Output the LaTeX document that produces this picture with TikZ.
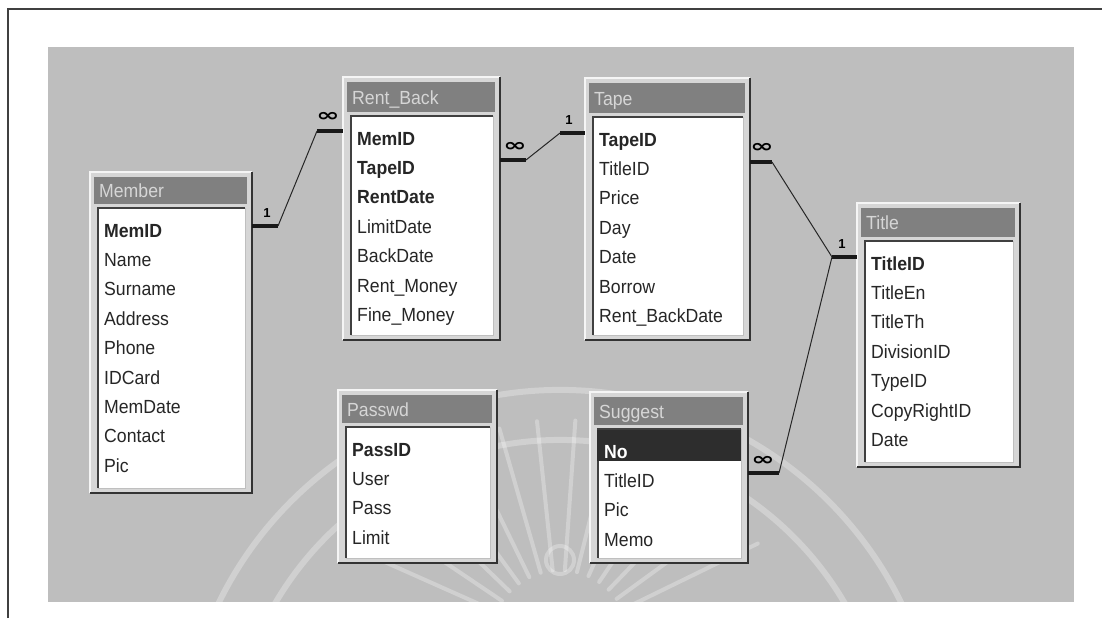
\documentclass[tikz,border=0pt]{standalone}
\usepackage{fontspec}
\setmainfont{Liberation Sans}
\newfontfamily\fieldfont[FakeStretch=0.93]{Liberation Sans}
\newfontfamily\symfont{DejaVu Sans}
\usetikzlibrary{calc}
\definecolor{bggray}{RGB}{190,190,190}
\definecolor{framegray}{RGB}{214,214,214}
\definecolor{headgray}{RGB}{128,128,128}
\definecolor{headtext}{RGB}{214,214,214}
\definecolor{selgray}{RGB}{45,45,45}
\tikzset{
  hilite/.style={draw=white!96!black, line width=1.6pt},
  shadow/.style={draw=black!80, line width=2pt},
  inset/.style={draw=black!75, line width=1.6pt},
  insetlight/.style={draw=black!25, line width=0.8pt},
  tabtitle/.style={anchor=base west, inner sep=0pt, text=headtext,
    font=\fieldfont\fontsize{19}{19}\selectfont},
  field/.style={anchor=base west, inner sep=0pt, text=black!85,
    font=\fieldfont\fontsize{19}{19}\selectfont},
  tablebox/.style={anchor=north west, inner sep=0pt, draw=none},
  stub/.style={line width=4.5pt, black!90},
  rel/.style={line width=1pt, black!85},
  onelabel/.style={inner sep=0pt, font=\bfseries\fontsize{13}{13}\selectfont},
  manylabel/.style={inner sep=0pt, font=\symfont\bfseries\fontsize{18}{18}\selectfont},
  watermark/.style={draw=white, opacity=0.28, line width=6pt, line cap=round}
}
% #1 hook, #2 name, #3 L, #4 T, #5 R, #6 B, #7 header bottom, #8 title, #9 fields
\newcommand\dbtable[9][]{%
  \pgfmathsetmacro\tbw{#5-#3}%
  \pgfmathsetmacro\tbh{#6-#4}%
  \node[tablebox, minimum width=\tbw pt, minimum height=\tbh pt] (#2) at (#3,#4) {};
  \fill[framegray] (#3,#4) rectangle (#5,#6);
  \draw[hilite] (#3,#6) |- (#5,#4);
  \draw[shadow] (#3,#6) -| (#5,#4);
  \fill[headgray] ({#3+4},{#4+5}) rectangle ({#5-5},#7);
  \node[tabtitle] (#2-title) at ({#3+9},{(#4+5+#7)/2+7}) {#8};
  \fill[white] ({#3+8},{#7+4}) rectangle ({#5-7},{#6-5});
  \draw[inset] ({#3+8},{#6-5}) |- ({#5-7},{#7+4});
  \draw[insetlight] ({#3+8},{#6-5}) -| ({#5-7},{#7+4});
  #1
  \foreach \f [count=\i] in {#9} {
    \node[field] (#2-\i) at ({#3+14},{#7+33+(\i-1)*29.4}) {\f};
  }
}
\begin{document}
\begin{tikzpicture}[x=1pt,y=-1pt]
\useasboundingbox (0,0) rectangle (1102,618);
\fill[white] (0,0) rectangle (1102,618);
% page frame
\draw[line width=1.6pt, black!75] (8,618) -- (8,9) -- (1102,9);
% background panel
\fill[bggray] (48,47) rectangle (1074,602);
% faint watermark
\begin{scope}
  \clip (48,47) rectangle (1074,602);
  \draw[watermark] (560,770) ++(200:380) arc[start angle=200, end angle=340, radius=380];
  \draw[watermark] (560,770) ++(205:330) arc[start angle=205, end angle=335, radius=330];
  \foreach \a in {204,214,...,336} {
    \draw[watermark, line width=4pt] (560,640) ++(\a:70) -- ++(\a:150);
  }
  \draw[watermark, line width=4pt] (560,560) circle[radius=14];
\end{scope}

% tables
\dbtable{member}{90}{172}{252}{493}{204}{Member}
  {{\bfseries MemID},Name,Surname,Address,Phone,IDCard,MemDate,Contact,Pic}
\dbtable{rentback}{343}{77}{500}{340}{112}{Rent\_Back}
  {{\bfseries MemID},{\bfseries TapeID},{\bfseries RentDate},LimitDate,BackDate,Rent\_Money,Fine\_Money}
\dbtable{tape}{585}{78}{750}{340}{113}{Tape}
  {{\bfseries TapeID},TitleID,Price,Day,Date,Borrow,Rent\_BackDate}
\dbtable{title}{857}{203}{1020}{467}{237}{Title}
  {{\bfseries TitleID},TitleEn,TitleTh,DivisionID,TypeID,CopyRightID,Date}
\dbtable{passwd}{338}{390}{497}{563}{423}{Passwd}
  {{\bfseries PassID},User,Pass,Limit}
\dbtable[{\fill[selgray] (597,430) rectangle (741,461);}]{suggest}{590}{392}{748}{563}{425}{Suggest}
  {{\color{white}\bfseries No},TitleID,Pic,Memo}

% connector end points
\coordinate (c1a) at (252,226);
\coordinate (c1b) at (278,226);
\coordinate (c1c) at (317,131);
\coordinate (c1d) at (343,131);
\coordinate (c2a) at (500,160);
\coordinate (c2b) at (526,160);
\coordinate (c2c) at (560,133);
\coordinate (c2d) at (585,133);
\coordinate (c3a) at (750,162);
\coordinate (c3b) at (772,162);
\coordinate (c3c) at (832,257);
\coordinate (c3d) at (857,257);
\coordinate (c4a) at (748,473);
\coordinate (c4b) at (779,473);

% Member 1 -- oo Rent_Back
\draw[stub] (c1a) -- (c1b);
\draw[rel] (c1b) -- (c1c);
\draw[stub] (c1c) -- (c1d);
\node[onelabel] (l1) at (267,213) {1};
\node[manylabel] (l2) at (328,117) {\scalebox{1.55}[1]{∞}};
% Rent_Back oo -- 1 Tape
\draw[stub] (c2a) -- (c2b);
\draw[rel] (c2b) -- (c2c);
\draw[stub] (c2c) -- (c2d);
\node[manylabel] (l3) at (515,147) {\scalebox{1.55}[1]{∞}};
\node[onelabel] (l4) at (569,120) {1};
% Tape oo -- 1 Title
\draw[stub] (c3a) -- (c3b);
\draw[rel] (c3b) -- (c3c);
\draw[stub] (c3c) -- (c3d);
\node[manylabel] (l5) at (762,148) {\scalebox{1.55}[1]{∞}};
\node[onelabel] (l6) at (842,244) {1};
% Suggest oo -- 1 Title
\draw[stub] (c4a) -- (c4b);
\draw[rel] (c4b) -- (c3c);
\node[manylabel] (l7) at (763,461) {\scalebox{1.55}[1]{∞}};
\end{tikzpicture}
\end{document}
